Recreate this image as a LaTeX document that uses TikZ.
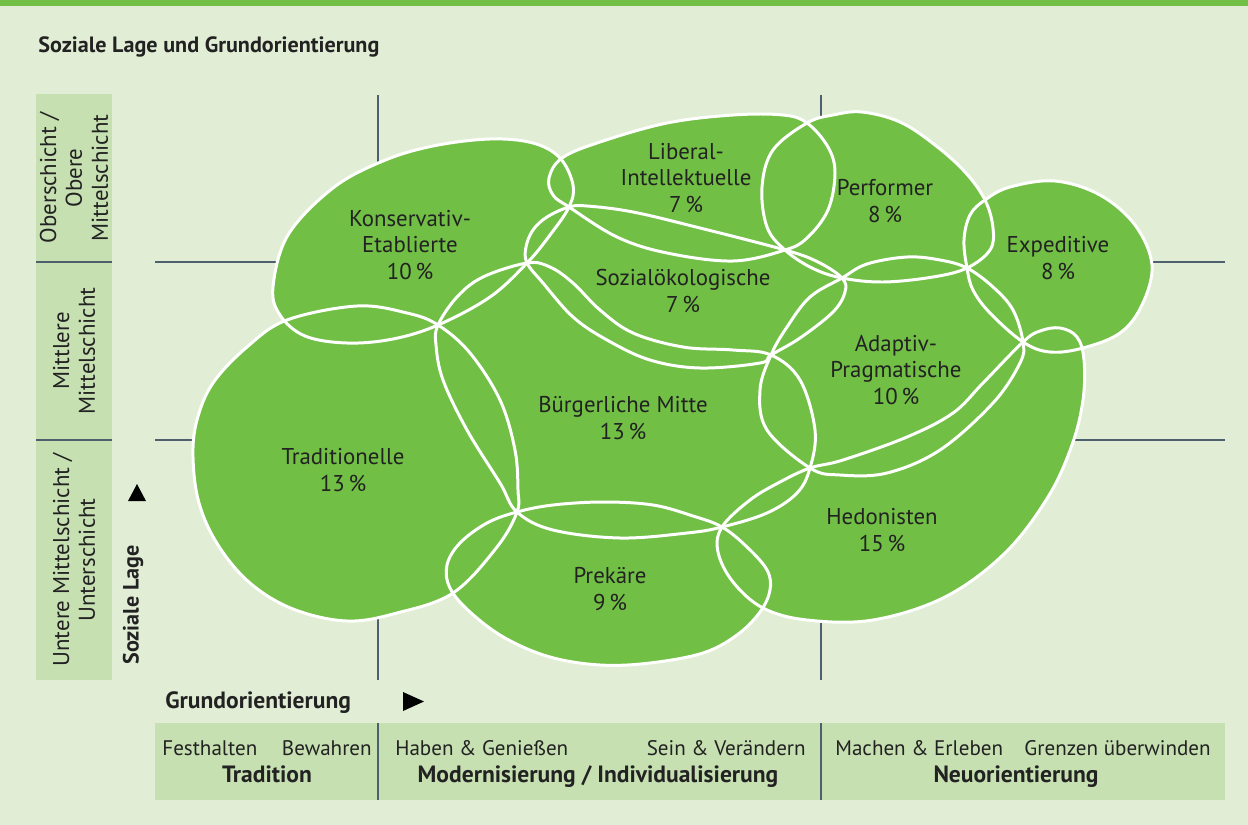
\documentclass[tikz,border=0pt]{standalone}
\usepackage{fontspec}
\setmainfont{PT Sans}

\definecolor{milieugreen}{HTML}{71BF44}
\definecolor{paper}{HTML}{E1EED5}
\definecolor{axisbox}{HTML}{C6E0B1}
\definecolor{gridline}{HTML}{4E5F6E}
\definecolor{ink}{HTML}{222222}

% milieu outlines (pixel grid, y downwards)
\newcommand\milieuKE{plot[smooth cycle,tension=.6] coordinates {(273,287) (288,235) (333,188) (383,161) (433,146) (490,139) (533,143) (560,158) (573,185) (569,207) (550,235) (527,263) (490,297) (438,325) (393,339) (347,343) (305,336) (280,315)}}
\newcommand\milieuLI{plot[smooth cycle,tension=.6] coordinates {(549,178) (562,158) (600,142) (667,123) (733,115) (783,115) (807,123) (828,147) (835,173) (828,210) (807,238) (785,250) (733,261) (667,253) (617,237) (569,207) (553,195)}}
\newcommand\milieuPF{plot[smooth cycle,tension=.6] coordinates {(807,123) (833,115) (862,112) (900,122) (935,145) (965,172) (985,200) (993,228) (990,250) (967,268) (933,277) (883,282) (842,278) (812,268) (785,250) (767,227) (762,187) (773,150)}}
\newcommand\milieuEX{plot[smooth cycle,tension=.6] coordinates {(985,200) (1010,187) (1055,181) (1100,195) (1135,225) (1152,265) (1142,305) (1120,333) (1083,348) (1050,352) (1023,342) (990,313) (973,290) (967,268) (964,240) (970,215)}}
\newcommand\milieuSO{plot[smooth cycle,tension=.6] coordinates {(569,207) (587,206) (633,212) (700,228) (785,250) (818,262) (842,278) (845,292) (833,312) (800,338) (771,355) (760,363) (700,368) (650,360) (607,340) (573,317) (543,283) (527,263) (526,247) (533,230) (547,217)}}
\newcommand\milieuAP{plot[smooth cycle,tension=.6] coordinates {(842,278) (867,264) (907,257) (940,260) (967,268) (993,287) (1013,310) (1023,342) (1020,363) (993,403) (940,450) (887,473) (840,475) (810,468) (767,430) (760,390) (771,355) (787,327) (810,297)}}
\newcommand\milieuBM{plot[smooth cycle,tension=.6] coordinates {(438,325) (457,297) (483,277) (527,263) (550,267) (573,283) (600,310) (633,333) (683,347) (733,350) (771,355) (800,380) (815,430) (810,468) (797,493) (767,513) (722,527) (687,533) (620,538) (553,530) (517,512) (500,483) (467,430) (443,380) (436,345)}}
\newcommand\milieuTR{plot[smooth cycle,tension=.6] coordinates {(193,457) (199,503) (218,545) (250,583) (293,609) (347,621) (397,613) (453,593) (497,547) (517,512) (518,490) (515,450) (500,400) (470,353) (438,325) (407,313) (357,306) (287,320) (247,347) (213,383) (197,420)}}
\newcommand\milieuPR{plot[smooth cycle,tension=.6] coordinates {(517,512) (553,505) (603,502) (653,505) (693,516) (722,527) (747,547) (767,570) (770,590) (760,612) (737,635) (703,653) (650,663) (600,665) (550,657) (505,638) (470,612) (450,588) (447,565) (460,543) (487,523)}}
\newcommand\milieuHE{plot[smooth cycle,tension=.6] coordinates {(722,527) (750,500) (780,482) (810,468) (843,460) (907,437) (953,413) (983,383) (1023,342) (1040,331) (1060,328) (1077,337) (1084,360) (1083,400) (1072,445) (1048,497) (1005,553) (945,597) (873,620) (807,620) (763,608) (733,582) (718,552)}}

\begin{document}
\begin{tikzpicture}[x=0.02cm,y=-0.02cm,
  milieu/.style={fill=milieugreen},
  rim/.style={draw=white,line width=1.7pt},
  milieutext/.style={text=ink,align=center,font=\fontsize{13}{14.9}\selectfont},
  axistext/.style={text=ink,inner sep=0pt,font=\fontsize{12}{14.7}\selectfont},
  axisbold/.style={axistext,font=\bfseries\fontsize{13.4}{15}\selectfont},
  gridrule/.style={draw=gridline,line width=1.2pt}]

\useasboundingbox (0,0) rectangle (1248,825);
\fill[paper] (0,0) rectangle (1248,825);
\fill[milieugreen] (0,0) rectangle (1248,6);

\node[axistext,font=\bfseries\fontsize{12.6}{15}\selectfont,anchor=base west] (title) at (38,52) {Soziale Lage und Grundorientierung};

% axes cross
\draw[gridrule] (378,95) -- (378,680);
\draw[gridrule] (821,95) -- (821,680);
\draw[gridrule] (155,262) -- (1225,262);
\draw[gridrule] (155,440) -- (1225,440);

% soziale Lage
\fill[axisbox] (36,94) rectangle (112,680);
\draw[gridline,line width=1pt] (36,262) -- (112,262) (36,440) -- (112,440);
\node[axistext,rotate=90,align=center,font=\fontsize{13}{14.7}\selectfont] (ober) at (74,178) {Oberschicht /\\Obere\\Mittelschicht};
\node[axistext,rotate=90,align=center,font=\fontsize{13}{14.7}\selectfont] (mitte) at (74,351) {Mittlere\\Mittelschicht};
\node[axistext,rotate=90,align=center,font=\fontsize{13}{14.7}\selectfont] (unter) at (74,560) {Untere Mittelschicht /\\Unterschicht};
\node[axisbold,rotate=90,font=\bfseries\fontsize{12.6}{15}\selectfont] (lage) at (133,605) {Soziale Lage};
\fill[black] (128,501) -- (146,501) -- (137,484) -- cycle;

% Grundorientierung
\node[axisbold,anchor=base west] (grund) at (165,708) {Grundorientierung};
\fill[black] (403,692) -- (424,701.5) -- (403,711) -- cycle;
\fill[axisbox] (155,723) rectangle (1225,800);
\draw[gridline,line width=1pt] (378,723) -- (378,800) (821,723) -- (821,800);
\node[axistext,anchor=base west] (festhalten) at (162,755) {Festhalten};
\node[axistext,anchor=base east] (bewahren) at (372,755) {Bewahren};
\node[axistext,anchor=base west] (haben) at (395,755) {Haben \& Genießen};
\node[axistext,anchor=base east] (sein) at (806,755) {Sein \& Verändern};
\node[axistext,anchor=base west] (machen) at (835,755) {Machen \& Erleben};
\node[axistext,anchor=base east] (grenzen) at (1211,755) {Grenzen überwinden};
\node[axisbold,anchor=base] (tradition) at (267,782) {Tradition};
\node[axisbold,anchor=base] (modern) at (598,782) {Modernisierung / Individualisierung};
\node[axisbold,anchor=base] (neu) at (1016,782) {Neuorientierung};

% milieus
\fill[milieu] \milieuKE;
\fill[milieu] \milieuLI;
\fill[milieu] \milieuPF;
\fill[milieu] \milieuEX;
\fill[milieu] \milieuSO;
\fill[milieu] \milieuAP;
\fill[milieu] \milieuBM;
\fill[milieu] \milieuTR;
\fill[milieu] \milieuPR;
\fill[milieu] \milieuHE;
\draw[rim] \milieuKE;
\draw[rim] \milieuLI;
\draw[rim] \milieuPF;
\draw[rim] \milieuEX;
\draw[rim] \milieuSO;
\draw[rim] \milieuAP;
\draw[rim] \milieuBM;
\draw[rim] \milieuTR;
\draw[rim] \milieuPR;
\draw[rim] \milieuHE;

\node[milieutext] (ke) at (410,245) {Konservativ-\\Etablierte\\10\,\%};
\node[milieutext] (li) at (686,178) {Liberal-\\Intellektuelle\\7\,\%};
\node[milieutext] (pf) at (885,201) {Performer\\8\,\%};
\node[milieutext] (ex) at (1058,258) {Expeditive\\8\,\%};
\node[milieutext] (so) at (683,291) {Sozialökologische\\7\,\%};
\node[milieutext] (ap) at (896,370) {Adaptiv-\\Pragmatische\\10\,\%};
\node[milieutext] (bm) at (623,418) {Bürgerliche Mitte\\13\,\%};
\node[milieutext] (tr) at (343,470) {Traditionelle\\13\,\%};
\node[milieutext] (pr) at (610,589) {Prekäre\\9\,\%};
\node[milieutext] (he) at (882,530) {Hedonisten\\15\,\%};
\end{tikzpicture}
\end{document}
